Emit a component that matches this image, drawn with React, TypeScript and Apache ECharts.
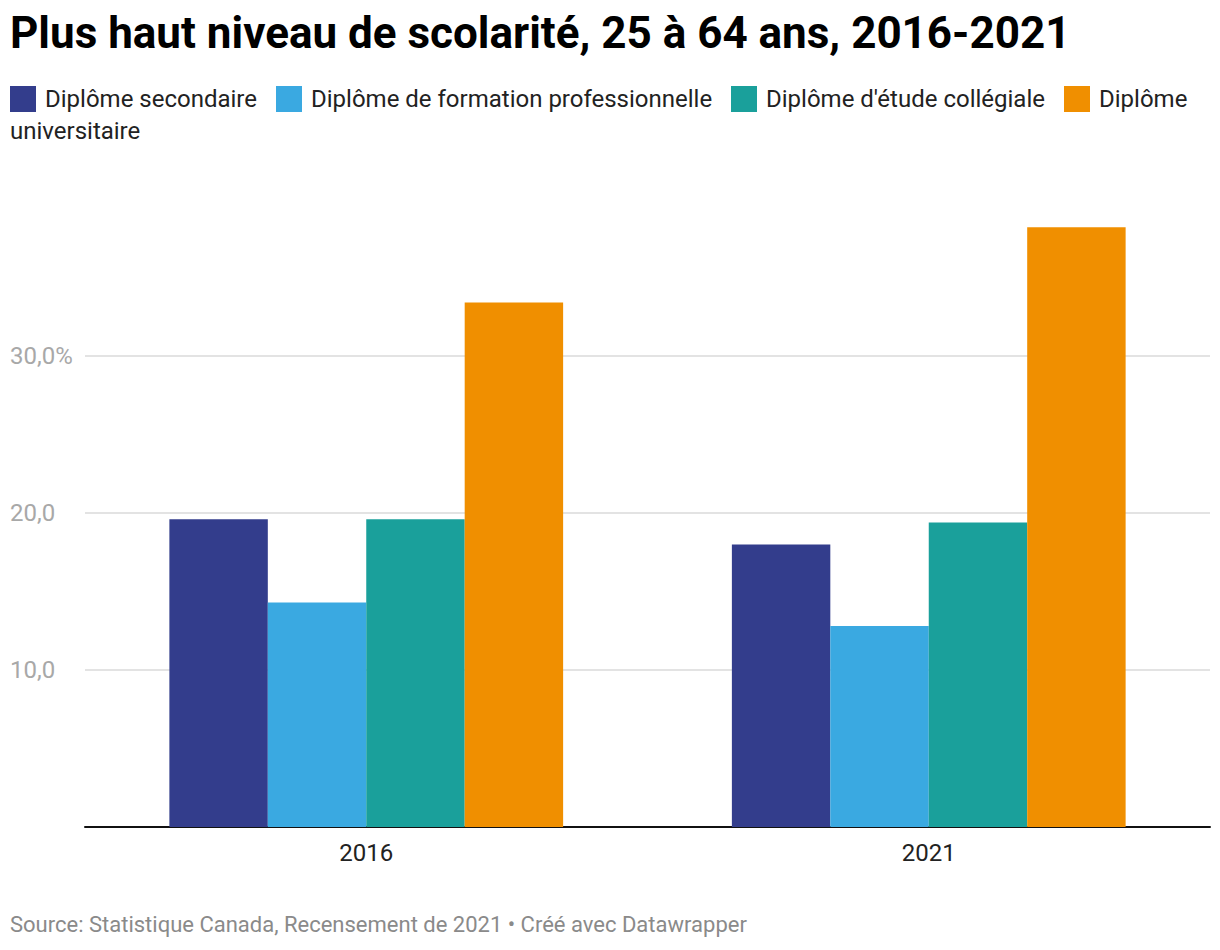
import React, { useEffect, useRef } from "react";
import * as echarts from "echarts";

const categories = ["2016", "2021"];
const seriesNames = [
  "Diplôme secondaire",
  "Diplôme de formation professionnelle",
  "Diplôme d'étude collégiale",
  "Diplôme universitaire",
];
const secondaire = [19.6, 18.0];
const professionnelle = [14.3, 12.8];
const collegiale = [19.6, 19.4];
const universitaire = [33.4, 38.2];
const colors = ["#333d8c", "#3aa9e1", "#1aa09b", "#f08f00"];

const FONT = "Roboto, 'Noto Sans', sans-serif";

export default function App() {
  const ref = useRef<HTMLDivElement>(null);
  useEffect(() => {
    if (!ref.current) return;
    const chart = echarts.init(ref.current, undefined, { renderer: "svg" });
    const values = [secondaire, professionnelle, collegiale, universitaire];
    const legendItems = [
      { x: 10, y: 86, lines: [seriesNames[0]] },
      { x: 276, y: 86, lines: [seriesNames[1]] },
      { x: 731, y: 86, lines: [seriesNames[2]] },
      { x: 1064, y: 86, lines: ["Diplôme", "universitaire"] },
    ];
    const graphics: any[] = [
      {
        type: "text",
        left: 10,
        top: 11,
        style: {
          text: "Plus haut niveau de scolarité, 25 à 64 ans, 2016-2021",
          font: `bold 44px ${FONT}`,
          fill: "#000",
        },
      },
      {
        type: "text",
        left: 10,
        top: 913,
        style: {
          text: "Source: Statistique Canada, Recensement de 2021 • Créé avec Datawrapper",
          font: `22px ${FONT}`,
          fill: "#8a8a8a",
        },
      },
    ];
    legendItems.forEach((it, i) => {
      graphics.push({
        type: "rect",
        shape: { x: it.x, y: it.y, width: 26, height: 26 },
        style: { fill: colors[i] },
      });
      graphics.push({
        type: "text",
        x: it.x + 35,
        y: it.y + 13,
        style: {
          text: it.lines[0],
          font: `24px ${FONT}`,
          fill: "#222",
          verticalAlign: "middle",
        },
      });
      if (it.lines[1]) {
        graphics.push({
          type: "text",
          x: 10,
          y: it.y + 45,
          style: {
            text: it.lines[1],
            font: `24px ${FONT}`,
            fill: "#222",
            verticalAlign: "middle",
          },
        });
      }
    });
    chart.setOption({
      animation: false,
      grid: { left: 85, right: 10, top: 199, bottom: 123, containLabel: false },
      xAxis: {
        type: "category",
        data: categories,
        axisLine: { lineStyle: { color: "#111", width: 2 } },
        axisTick: { show: false },
        axisLabel: { fontFamily: FONT, fontSize: 24, color: "#222", margin: 14 },
      },
      yAxis: {
        type: "value",
        min: 0,
        max: 40,
        interval: 10,
        axisLine: { show: false },
        axisTick: { show: false },
        splitLine: {
          show: true,
          showMinLine: false,
          showMaxLine: false,
          lineStyle: { color: "#e3e3e3", width: 2 },
        },
        axisLabel: {
          showMinLabel: false,
          showMaxLabel: false,
          align: "left",
          margin: 75,
          fontFamily: FONT,
          fontSize: 24,
          color: "#a8a8a8",
          formatter: (v: number) => (v === 30 ? "30,0%" : v.toFixed(1).replace(".", ",")),
        },
      },
      series: values.map((d, i) => ({
        name: seriesNames[i],
        type: "bar",
        data: d,
        barGap: "0%",
        barCategoryGap: "30%",
        itemStyle: { color: colors[i] },
      })),
      graphic: graphics,
    });
    return () => chart.dispose();
  }, []);
  return (
    <div
      ref={ref}
      style={{ position: "absolute", left: 0, top: 0, width: 1220, height: 950 }}
    />
  );
}
